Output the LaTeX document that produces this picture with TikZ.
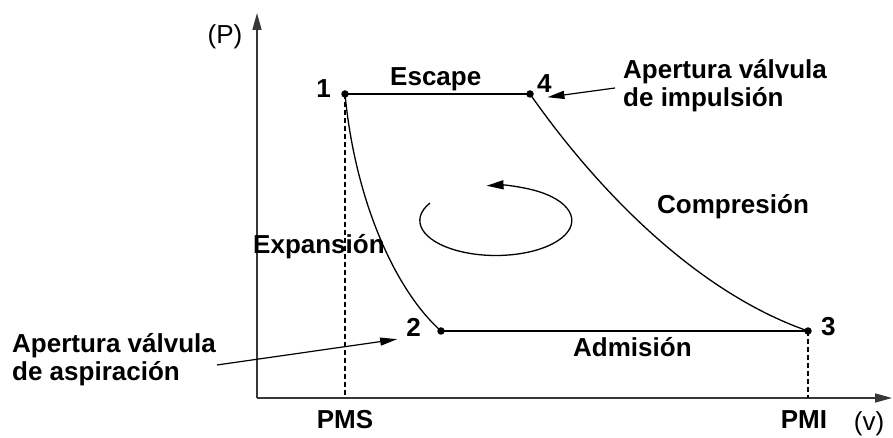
\documentclass[tikz,border=0pt]{standalone}
\usepackage{fontspec}
\setmainfont{Liberation Sans}
\usetikzlibrary{arrows.meta,positioning}
\definecolor{axisgray}{RGB}{55,55,55}
\tikzset{
  cycle line/.style={line width=1.3pt, black},
  axis line/.style={line width=1.6pt, axisgray, -{Triangle[length=17pt,width=9pt]}},
  guide line/.style={line width=1.1pt, black, dash pattern=on 5pt off 3pt},
  pointer arrow/.style={line width=1.2pt, black, -{Triangle[length=17pt,width=8pt]}},
  state dot/.style={circle, fill=black, inner sep=0pt, minimum size=7.5pt},
  state label/.style={font=\fontsize{26}{28}\selectfont\bfseries, inner sep=0pt},
  phase label/.style={font=\fontsize{26}{28.5}\selectfont\bfseries, inner sep=0pt, align=left},
  axis label/.style={font=\fontsize{26}{28}\selectfont, inner sep=0pt}
}

\begin{document}
\begin{tikzpicture}[x=1pt, y=1pt]
    \useasboundingbox (0,0) rectangle (893,438);
    \coordinate (origin) at (257,40);
    \coordinate (p top) at (257,425);
    \coordinate (v end) at (892,40);
    \coordinate (p1) at (345,344);
    \coordinate (p4) at (530,344);
    \coordinate (p2) at (441,107);
    \coordinate (p3) at (808,107);
    \coordinate (foot1) at (345,40);
    \coordinate (foot3) at (808,40);
    \coordinate (swirl start) at (430,235);
    \coordinate (asp tail) at (217,73);
    \coordinate (imp tail) at (615,350);

    \draw[axis line] (origin) -- (p top);
    \draw[axis line] (origin) -- (v end);
    \draw[guide line] (p1) -- (foot1);
    \draw[guide line] (p3) -- (foot3);

    \draw[cycle line] (p1) -- (p4);
    \draw[cycle line] (p2) -- (p3);
    \draw[cycle line] (p1) .. controls (355,238) and (395,148) .. (p2);
    \draw[cycle line] (p4) .. controls (590,258) and (690,148) .. (p3);
    \draw[cycle line, -{Triangle[length=17pt,width=9pt]}] (swirl start)
      arc[start angle=150, end angle=457, x radius=76, y radius=35];

    \node[state dot] (d1) at (p1) {};
    \node[state dot] (d2) at (p2) {};
    \node[state dot] (d3) at (p3) {};
    \node[state dot] (d4) at (p4) {};

    \node[state label, anchor=base east, xshift=-14pt, yshift=-4pt] (n1) at (p1) {1};
    \node[state label, anchor=base west, xshift=7pt, yshift=1pt] (n4) at (p4) {4};
    \node[state label, anchor=base east, xshift=-20pt, yshift=-6pt] (n2) at (p2) {2};
    \node[state label, anchor=base west, xshift=13pt, yshift=-5pt] (n3) at (p3) {3};

    \node[state label, below=12pt of foot1] (pms) {PMS};
    \node[state label, below=12pt of foot3, xshift=-4pt] (pmi) {PMI};
    \node[axis label, anchor=base] (p label) at (225,394) {(P)};
    \node[axis label, anchor=base] (v label) at (869,7) {(v)};

    \node[phase label, anchor=base west] (escape) at (390,352) {Escape};
    \node[phase label, anchor=base west] (expansion) at (253,184) {Expansión};
    \node[phase label, anchor=base west] (compression) at (657,224) {Compresión};
    \node[phase label, anchor=base west] (admission) at (573,81) {Admisión};
    \node[phase label, anchor=north west] (asp note) at (12,105) {Apertura válvula\\de aspiración};
    \node[phase label, anchor=north west] (imp note) at (623,379) {Apertura válvula\\de impulsión};

    \draw[pointer arrow] (asp tail) -- ([xshift=-9pt,yshift=-2pt]n2.south west);
    \draw[pointer arrow] (imp tail) -- ([xshift=3pt,yshift=-4pt]n4.south);
  \end{tikzpicture}
\end{document}
